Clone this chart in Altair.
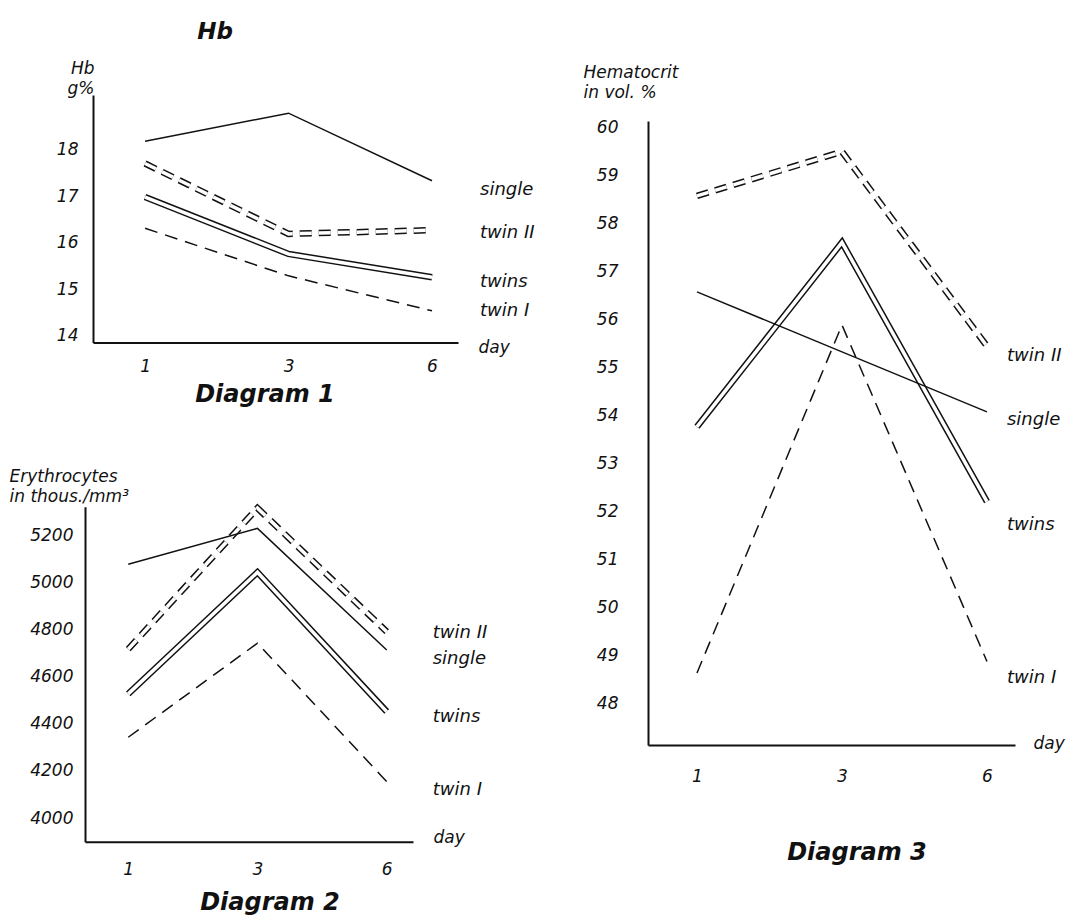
import altair as alt
import pandas as pd

FONT = "DejaVu Sans"
INK = "#111111"

days = ["1", "3", "6"]
series_names = ["single", "twin II", "twins", "twin I"]

# Diagram 1 - Hb (g%)
hb_single = [18.18, 18.78, 17.33]
hb_twin2 = [17.70, 16.19, 16.27]
hb_twins = [16.98, 15.76, 15.26]
hb_twin1 = [16.31, 15.29, 14.54]
hb_label_names = ["single", "twin II", "twins", "twin I"]
hb_label_at = [17.13, 16.21, 15.16, 14.53]
hb_ticks = [14, 15, 16, 17, 18]

# Diagram 2 - Erythrocytes (thous./mm3)
ery_single = [5077, 5229, 4713]
ery_twin2 = [4717, 5315, 4791]
ery_twins = [4527, 5043, 4452]
ery_twin1 = [4343, 4742, 4155]
ery_label_names = ["twin II", "single", "twins", "twin I"]
ery_label_at = [4785, 4675, 4430, 4120]
ery_ticks = [4000, 4200, 4400, 4600, 4800, 5000, 5200]

# Diagram 3 - Hematocrit (vol. %)
hct_single = [56.44, 55.19, 53.94]
hct_twin2 = [58.44, 59.36, 55.31]
hct_twins = [53.63, 57.47, 52.07]
hct_twin1 = [48.50, 55.75, 48.74]
hct_label_names = ["twin II", "single", "twins", "twin I"]
hct_label_at = [55.10, 53.77, 51.58, 48.40]
hct_ticks = list(range(48, 61))

W, H = 1069, 908


def axis_common():
    return dict(grid=False, ticks=False, tickSize=0, domain=True, domainColor=INK,
                domainWidth=2, labelFont=FONT, labelFontStyle="italic",
                labelFontSize=17, labelColor=INK, titleFont=FONT,
                titleFontStyle="italic", titleFontWeight="normal",
                titleFontSize=17, titleColor=INK, labelFlush=False,
                labelOverlap=False, labelAngle=0)


def diagram(single, twin2, twins, twin1, label_names, label_at, label_dx,
            ticks, xscale, yscale, xaxis, yaxis):
    df = pd.DataFrame({
        "day": days * 4,
        "series": ["single"] * 3 + ["twin II"] * 3 + ["twins"] * 3 + ["twin I"] * 3,
        "value": list(single) + list(twin2) + list(twins) + list(twin1),
    })
    lab = pd.DataFrame({"day": [days[-1]] * len(label_names),
                        "value": label_at, "name": label_names})
    xa = alt.Axis(**axis_common(), **xaxis)
    ya = alt.Axis(values=ticks, format="d", **axis_common(), **yaxis)
    x = alt.X("day:O", scale=alt.Scale(**xscale), axis=xa)
    y = alt.Y("value:Q", scale=alt.Scale(zero=False, nice=False, **yscale), axis=ya)
    base = alt.Chart(df).encode(x=x, y=y)

    def sel(name):
        return base.transform_filter(alt.datum.series == name)

    dash = [12, 7]
    layers = [
        sel("twin II").mark_line(color=INK, strokeWidth=6.5, strokeDash=dash),
        sel("twin II").mark_line(color="white", strokeWidth=3.5, strokeDash=dash),
        sel("twins").mark_line(color=INK, strokeWidth=6.5),
        sel("twins").mark_line(color="white", strokeWidth=3.5),
        sel("single").mark_line(color=INK, strokeWidth=1.5),
        sel("twin I").mark_line(color=INK, strokeWidth=1.5, strokeDash=[13, 8]),
        alt.Chart(lab).mark_text(align="left", baseline="middle", dx=label_dx,
                                 font=FONT, fontStyle="italic", fontSize=18,
                                 color=INK).encode(x=x, y=y, text="name:N"),
    ]
    return alt.layer(*layers)


d1 = diagram(
    hb_single, hb_twin2, hb_twins, hb_twin1, hb_label_names, hb_label_at, 48,
    hb_ticks,
    xscale=dict(type="point", domain=days, range=[85, 450], padding=0.272, align=0.667),
    yscale=dict(domain=[13.86, 19.17], range=[334.5, 87]),
    xaxis=dict(orient="bottom", offset=334.5 - H, labelPadding=16, title="day",
               titleX=470, titleY=5, titleAlign="left", titleBaseline="middle"),
    yaxis=dict(orient="left", offset=-85, labelPadding=15, title=["Hb", "g%"],
               titleAngle=0, titleAlign="right", titleBaseline="bottom",
               titleX=1, titleY=69, titleLineHeight=20),
)

d2 = diagram(
    ery_single, ery_twin2, ery_twins, ery_twin1, ery_label_names, ery_label_at, 46,
    ery_ticks,
    xscale=dict(type="point", domain=days, range=[77, 405], padding=0.269, align=0.622),
    yscale=dict(domain=[3900, 5321], range=[833.7, 498.7]),
    xaxis=dict(orient="bottom", offset=833.7 - H, labelPadding=20, title="day",
               titleX=425, titleY=-4, titleAlign="left", titleBaseline="middle"),
    yaxis=dict(orient="left", offset=-77, labelPadding=12,
               title=["Erythrocytes", "in thous./mm³"],
               titleAngle=0, titleAlign="left", titleBaseline="bottom",
               titleX=-76, titleY=477, titleLineHeight=20),
)

d3 = diagram(
    hct_single, hct_twin2, hct_twins, hct_twin1, hct_label_names, hct_label_at, 20,
    hct_ticks,
    xscale=dict(type="point", domain=days, range=[640, 1007], padding=0.2655, align=0.636),
    yscale=dict(domain=[47, 60], range=[737, 113]),
    xaxis=dict(orient="bottom", offset=737 - H, labelPadding=23, title="day",
               titleX=1025, titleY=-2, titleAlign="left", titleBaseline="middle"),
    yaxis=dict(orient="left", offset=-640, labelPadding=30, labelOffset=6,
               title=["Hematocrit", "in vol. %"],
               titleAngle=0, titleAlign="left", titleBaseline="bottom",
               titleX=-65, titleY=73, titleLineHeight=20),
)


def caption(text, cx, cy, size=24):
    return alt.Chart(pd.DataFrame({"t": [text]})).mark_text(
        align="center", baseline="alphabetic", font=FONT, fontStyle="italic",
        fontWeight="bold", fontSize=size, color=INK,
    ).encode(text="t:N", x=alt.value(cx), y=alt.value(cy))


chart = alt.layer(
    d1, d2, d3,
    caption("Hb", 207, 31, 23),
    caption("Diagram 1", 257, 394),
    caption("Diagram 2", 262, 902),
    caption("Diagram 3", 849, 852),
).resolve_scale(x="independent", y="independent").properties(
    width=W, height=H, padding=0,
    autosize=alt.AutoSizeParams(type="none"),
    background="white",
).configure_view(strokeWidth=0)

chart.save("out.html", embed_options={"renderer": "svg", "actions": False})
